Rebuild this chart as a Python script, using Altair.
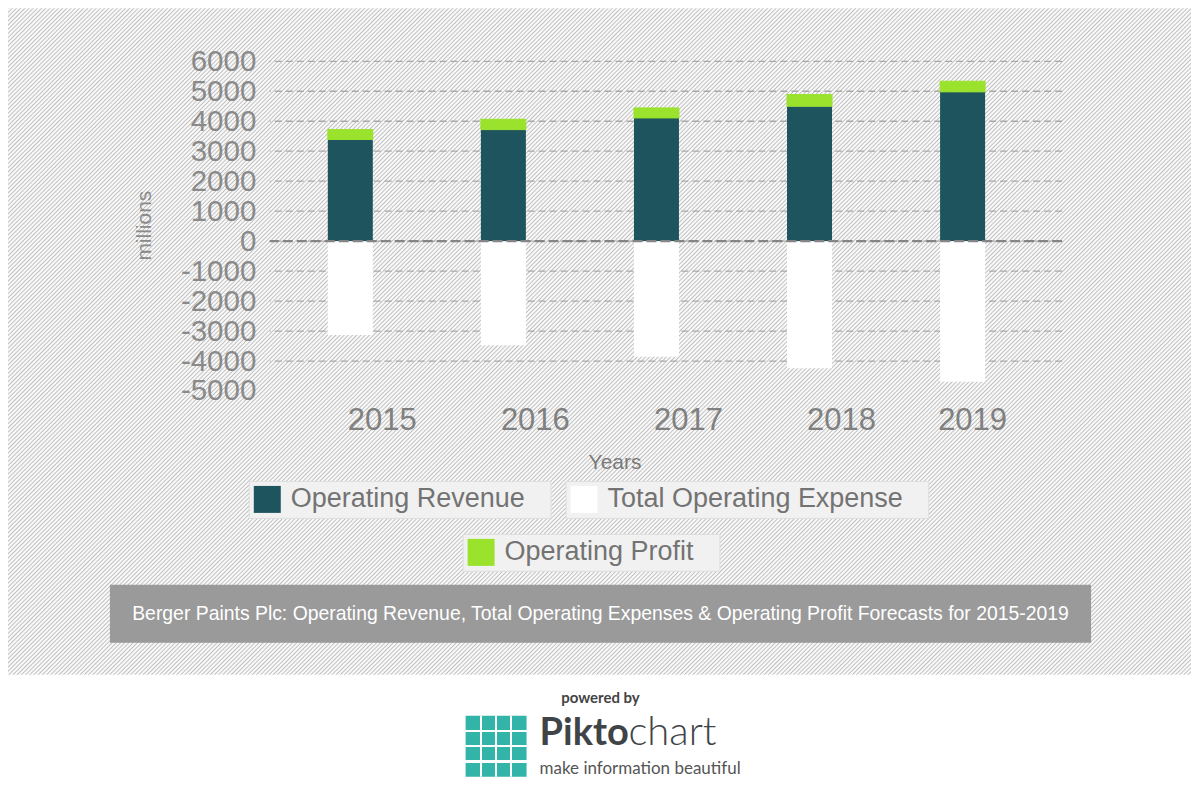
import altair as alt
import pandas as pd

# ---------------- data ----------------
years = ["2015", "2016", "2017", "2018", "2019"]
operating_revenue = [3390, 3720, 4110, 4500, 4980]
total_operating_expense = [-3130, -3470, -3860, -4240, -4690]
operating_profit = [330, 345, 335, 390, 355]
series_names = ["Operating Revenue", "Total Operating Expense", "Operating Profit"]
y_tick_values = [-5000, -4000, -3000, -2000, -1000, 0, 1000, 2000, 3000, 4000, 5000, 6000]
caption = ("Berger Paints Plc: Operating Revenue, Total Operating Expenses & "
           "Operating Profit Forecasts for 2015-2019")
powered_by = "powered by"
brand_bold = "Pikto"
brand_light = "chart"
brand_tagline = "make information beautiful"

# ---------------- styles ----------------
FONT = "Liberation Sans"
LOGO_FONT = "Lato"
TEAL = "#1e545e"
GREEN = "#9be22c"
WHITE = "#ffffff"
LOGO_TEAL = "#33b4a9"
HATCH_LINE = "#bdbdbd"
HATCH_BG = "#f8f8f8"

df = pd.DataFrame({
    "year": years,
    "revenue": operating_revenue,
    "expense": total_operating_expense,
    "profit": operating_profit,
})
one = pd.DataFrame({"k": [0]})
grid_df = pd.DataFrame({"v": [v for v in y_tick_values if v != y_tick_values[0]]})

# hatch background gradient (diagonal stripes)
W, H = 1184.0, 667.0
S = W + H
period = 4.2
n = int(S / period) + 1
stops = []
for i in range(n):
    a = i * period / S
    for frac, col in ((0.0, HATCH_LINE), (0.3, HATCH_BG), (0.7, HATCH_BG)):
        o = a + frac * period / S
        if o <= 1:
            stops.append(alt.GradientStop(offset=round(o, 6), color=col))
c = S / (W * W + H * H)
hatch = alt.LinearGradient(gradient="linear", stops=stops, x1=0, y1=0, x2=c * W, y2=c * H)

# logo icon gradients (grid of squares)
def grid_stops(base, gap):
    st = []
    g = 0.018
    st.append(alt.GradientStop(offset=0, color=base))
    for k in (0.25, 0.5, 0.75):
        st += [alt.GradientStop(offset=k - g, color=base),
               alt.GradientStop(offset=k - g, color=gap),
               alt.GradientStop(offset=k + g, color=gap),
               alt.GradientStop(offset=k + g, color=base)]
    st.append(alt.GradientStop(offset=1, color=base))
    return st

icon_rows = alt.LinearGradient(gradient="linear", stops=grid_stops(LOGO_TEAL, WHITE),
                               x1=0, y1=0, x2=0, y2=1)
icon_cols = alt.LinearGradient(gradient="linear",
                               stops=grid_stops("rgba(255,255,255,0)", WHITE),
                               x1=0, y1=0, x2=1, y2=0)

# ---------------- scales / axes ----------------
yscale = alt.Scale(domain=[-5000, 6000], nice=False, zero=False)
xscale = alt.Scale(domain=years, range=[4, 770], paddingInner=0.706, paddingOuter=0.353)

yaxis = alt.Axis(values=y_tick_values, title="millions", titleX=-125, titleY=164,
                 titleAngle=-90, titleBaseline="middle", titleAlign="center",
                 titleFont=FONT, titleFontSize=21, titleFontWeight="normal",
                 titleColor="#8a8a8a", labelExpr="'' + datum.value",
                 labelFont=FONT, labelFontSize=29.5, labelColor="#8a8a8a",
                 labelOverlap=False, labelBound=False,
                 labelPadding=14, domain=False, ticks=False, grid=False, zindex=1)
xaxis = alt.Axis(title="Years", titleX=345, titleY=72, titleBaseline="middle",
                 titleAlign="center", titleFont=FONT, titleFontSize=21,
                 titleFontWeight="normal", titleColor="#7a7a7a",
                 labelFont=FONT, labelFontSize=31, labelColor="#808080",
                 labelAngle=0, labelBaseline="middle", labelPadding=30,
                 labelOverlap=False,
                 labelOffset={"condition": {"test": "datum.value == '2019'", "value": 10},
                              "value": 32},
                 domain=False, ticks=False, grid=False, zindex=1)


def legend(x, y):
    return alt.Legend(title=None, orient="none", legendX=x, legendY=y,
                      symbolType="square", symbolSize=729, symbolStrokeWidth=0,
                      symbolFillColor=GREEN,
                      labelFont=FONT, labelFontSize=27, labelColor="#737373",
                      labelLimit=600, labelOffset=10,
                      labelExpr="datum.label + '\u2800'",
                      fillColor="#f1f1f1", strokeColor="#dedede", padding=5, zindex=1)


X = alt.X("year:N", scale=xscale, axis=xaxis, sort=years)

# ---------------- layers ----------------
bg = alt.Chart(one).mark_rect(fill=hatch).encode(
    x=alt.value(-262), x2=alt.value(922), y=alt.value(-53), y2=alt.value(614))

cap_box = alt.Chart(one).mark_rect(fill="#9a9a9a").encode(
    x=alt.value(-160), x2=alt.value(822), y=alt.value(524), y2=alt.value(582))
cap_text = alt.Chart(one).mark_text(text=caption, font=FONT, fontSize=19.4, color=WHITE,
                                    align="center", baseline="middle").encode(
    x=alt.value(331), y=alt.value(553))

pw = alt.Chart(one).mark_text(text=powered_by, font=LOGO_FONT, fontSize=15,
                              fontWeight="bold", color="#444444",
                              align="center", baseline="middle").encode(
    x=alt.value(331), y=alt.value(637))
icon_a = alt.Chart(one).mark_rect(fill=icon_rows).encode(
    x=alt.value(196), x2=alt.value(257), y=alt.value(655), y2=alt.value(716))
icon_b = alt.Chart(one).mark_rect(fill=icon_cols).encode(
    x=alt.value(196), x2=alt.value(257), y=alt.value(655), y2=alt.value(716))
b1 = alt.Chart(one).mark_text(text=brand_bold, font=LOGO_FONT, fontSize=38,
                              fontWeight="bold", color="#3f4447",
                              align="left", baseline="alphabetic").encode(
    x=alt.value(270), y=alt.value(684))
b2 = alt.Chart(one).mark_text(text=brand_light, font=LOGO_FONT, fontSize=40,
                              fontWeight=300, color="#3f4447",
                              align="left", baseline="alphabetic").encode(
    x=alt.value(359), y=alt.value(684))
b3 = alt.Chart(one).mark_text(text=brand_tagline, font=LOGO_FONT, fontSize=17,
                              color="#555555", align="left",
                              baseline="alphabetic").encode(
    x=alt.value(270), y=alt.value(713))

grid = alt.Chart(grid_df).mark_rule(color="#a9a9a9", strokeDash=[7, 4],
                                    strokeWidth=1.3).encode(
    y=alt.Y("v:Q", scale=yscale, axis=yaxis))

base = alt.Chart(df)
rev = base.transform_calculate(s1=f"'{series_names[0]}'").mark_bar().encode(
    x=X,
    y=alt.Y("revenue:Q", scale=yscale, axis=yaxis),
    color=alt.Color("s1:N", scale=alt.Scale(domain=[series_names[0]], range=[TEAL]),
                    legend=legend(-21, 420)),
)
exp = base.transform_calculate(s2=f"'{series_names[1]}'").mark_bar().encode(
    x=X,
    y=alt.Y("expense:Q", scale=yscale, axis=yaxis),
    fill=alt.Fill("s2:N", scale=alt.Scale(domain=[series_names[1]], range=[WHITE]),
                  legend=legend(296, 420)),
)
prof = base.transform_calculate(s3=f"'{series_names[2]}'",
                                top="datum.revenue + datum.profit").mark_bar(fill=GREEN).encode(
    x=X,
    y=alt.Y("revenue:Q", scale=yscale, axis=yaxis),
    y2=alt.Y2("top:Q"),
    stroke=alt.Stroke("s3:N", scale=alt.Scale(domain=[series_names[2]], range=[GREEN]),
                      legend=legend(193, 473)),
)
zero = alt.Chart(one).mark_rule(color="#858585", strokeDash=[10, 4],
                                strokeWidth=2.2).encode(
    y=alt.Y("zero:Q", scale=yscale, axis=yaxis)).transform_calculate(zero="0")

chart = alt.layer(bg, cap_box, cap_text, pw, icon_a, icon_b, b1, b2, b3,
                  grid, rev, exp, prof, zero).properties(
    width=793, height=330,
    autosize=alt.AutoSizeParams(type="none"),
    padding={"left": 262, "top": 53, "right": 130, "bottom": 392},
    background="white",
).configure_view(strokeWidth=0)

chart.save("out.html", embed_options={"renderer": "svg", "actions": False})
